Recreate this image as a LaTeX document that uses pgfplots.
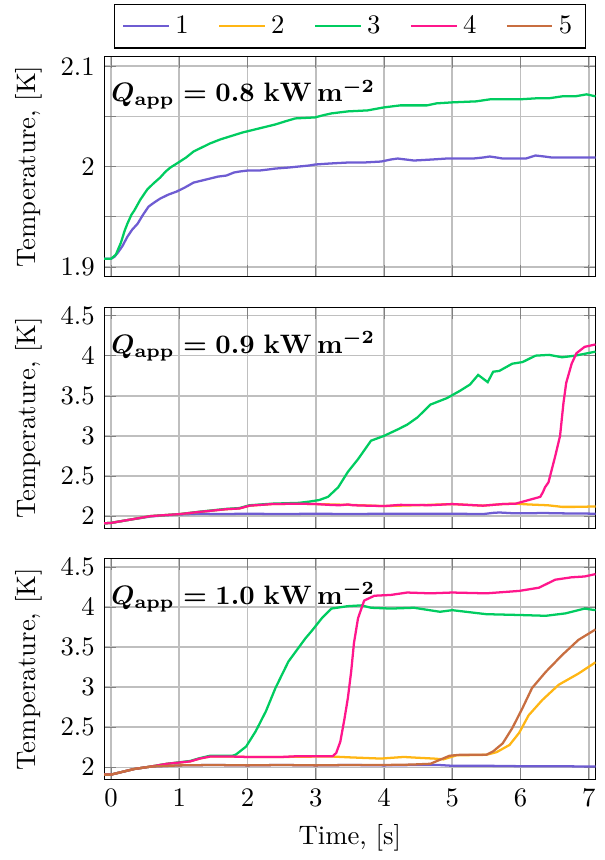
\documentclass[border=0pt]{standalone}
\usepackage{pgfplots}
\pgfplotsset{compat=1.18}
\usetikzlibrary{calc}

\definecolor{c1}{RGB}{110,92,210}
\definecolor{c2}{RGB}{255,182,20}
\definecolor{c3}{RGB}{0,204,96}
\definecolor{c4}{RGB}{255,22,140}
\definecolor{c5}{RGB}{200,110,64}

\pgfplotsset{
  panel/.style={
    scale only axis,
    width=184pt, height=82.6pt,
    xmin=-0.1, xmax=7.1,
    xtick={0,1,...,7},
    grid=major,
    major grid style={line width=0.6pt, black!25},
    ylabel={Temperature, [K]},
    every axis plot/.append style={line width=0.85pt},
  },
}
\tikzset{qlabel/.style={anchor=north west, inner sep=0pt}}
% bold math kept inside its own group so the math version resets within the node
\newcommand{\qapp}[1]{{\boldmath$Q_{\mathrm{app}} = #1\ \mathrm{kW\,m^{-2}}$}}

\begin{document}
\begin{tikzpicture}

\begin{axis}[panel, name=top, at={(0,0)}, anchor=north west,
  ymin=1.89, ymax=2.11,
  ytick={1.9,1.95,2,2.05,2.1}, yticklabels={1.9,,2,,2.1},
  xticklabels={},
  legend columns=5,
  legend style={at={(0.5,1.035)}, anchor=south, draw=black,
    /tikz/every even column/.append style={column sep=9pt}},
]
\addplot[c1] coordinates {
(-0.1,1.908) (0,1.908) (0.05,1.910) (0.1,1.914) (0.17,1.921) (0.24,1.930)
(0.31,1.937) (0.39,1.943) (0.47,1.952) (0.55,1.960) (0.63,1.964) (0.72,1.968)
(0.84,1.972) (0.96,1.975) (1.08,1.979) (1.21,1.984) (1.33,1.986) (1.45,1.988)
(1.57,1.990) (1.69,1.991) (1.8,1.994) (1.88,1.995) (2.0,1.996) (2.17,1.996)
(2.3,1.997) (2.41,1.998) (2.6,1.999) (2.75,2.000) (2.9,2.001) (2.99,2.002)
(3.2,2.003) (3.47,2.004) (3.7,2.004) (3.96,2.005) (4.1,2.007) (4.2,2.008)
(4.44,2.006) (4.7,2.007) (4.92,2.008) (5.31,2.008) (5.45,2.009) (5.55,2.010)
(5.65,2.009) (5.74,2.008) (6.08,2.008) (6.22,2.011) (6.35,2.010) (6.46,2.009)
(6.8,2.009) (7.1,2.009)
};
\addlegendimage{c2,line width=0.85pt}
\addplot[c3] coordinates {
(-0.1,1.908) (0,1.908) (0.07,1.912) (0.145,1.924) (0.2,1.936) (0.24,1.943)
(0.3,1.952) (0.34,1.956) (0.43,1.967) (0.53,1.977) (0.62,1.983) (0.72,1.989)
(0.8,1.995) (0.87,1.999) (1.01,2.005) (1.1,2.009) (1.21,2.015) (1.33,2.019)
(1.45,2.023) (1.6,2.027) (1.74,2.030) (1.93,2.034) (2.05,2.036) (2.17,2.038)
(2.41,2.042) (2.55,2.045) (2.70,2.048) (2.99,2.049) (3.1,2.051) (3.23,2.053)
(3.47,2.055) (3.76,2.056) (4.0,2.059) (4.24,2.061) (4.63,2.061) (4.77,2.063)
(5.0,2.064) (5.35,2.065) (5.55,2.067) (5.98,2.067) (6.22,2.068) (6.41,2.068)
(6.61,2.070) (6.80,2.070) (6.97,2.072) (7.1,2.070)
};
\addlegendimage{c4,line width=0.85pt}
\addlegendimage{c5,line width=0.85pt}
\legend{1,2,3,4,5}
\end{axis}
\node[qlabel] at ($(top.north west)+(2.5pt,-8.5pt)$) {\qapp{0.8}};

\begin{axis}[panel, name=mid, at={($(top.south west)+(0,-11.5pt)$)}, anchor=north west,
  ymin=1.85, ymax=4.6,
  ytick={2,2.5,3,3.5,4,4.5},
  xticklabels={},
]
\addplot[c1] coordinates {
(-0.1,1.91) (0,1.915) (0.24,1.95) (0.58,1.995) (0.8,2.01) (1.01,2.02)
(1.3,2.03) (1.6,2.025) (2.0,2.03) (2.5,2.025) (3.0,2.03) (3.5,2.025)
(4.0,2.03) (4.5,2.03) (5.0,2.03) (5.45,2.025) (5.6,2.04) (5.69,2.045)
(5.9,2.035) (6.2,2.035) (6.3,2.04) (6.5,2.035) (7.1,2.03)
};
\addplot[c2] coordinates {
(-0.1,1.91) (0,1.915) (0.24,1.95) (0.58,2.0) (1.01,2.025) (1.30,2.053)
(1.69,2.086) (1.88,2.095) (2.03,2.13) (2.36,2.15) (2.75,2.155) (3.0,2.15)
(3.5,2.14) (4.0,2.125) (4.5,2.136) (5.0,2.15) (5.45,2.13) (5.74,2.15)
(5.93,2.155) (6.12,2.145) (6.4,2.135) (6.61,2.115) (6.8,2.115) (7.1,2.12)
};
\addplot[c3] coordinates {
(-0.1,1.91) (0,1.915) (0.24,1.95) (0.58,2.0) (1.01,2.025) (1.30,2.055)
(1.69,2.09) (1.88,2.10) (2.03,2.135) (2.36,2.155) (2.75,2.165) (2.9,2.18)
(3.05,2.2) (3.18,2.24) (3.33,2.36) (3.47,2.55) (3.62,2.71) (3.81,2.94)
(4.0,3.0) (4.2,3.08) (4.34,3.14) (4.49,3.23) (4.68,3.39) (4.92,3.47)
(5.11,3.56) (5.26,3.64) (5.38,3.76) (5.52,3.67) (5.60,3.80) (5.69,3.81)
(5.88,3.90) (6.03,3.92) (6.22,4.0) (6.42,4.01) (6.61,3.98) (6.80,4.0)
(7.1,4.05)
};
\addplot[c4] coordinates {
(-0.1,1.91) (0,1.915) (0.24,1.95) (0.58,2.0) (1.01,2.025) (1.30,2.053)
(1.69,2.086) (1.88,2.095) (2.03,2.13) (2.36,2.15) (2.75,2.155) (3.0,2.15)
(3.2,2.14) (3.35,2.135) (3.47,2.145) (3.55,2.135) (3.76,2.13) (4.0,2.125)
(4.24,2.14) (4.68,2.136) (5.0,2.15) (5.45,2.13) (5.74,2.15) (5.93,2.155)
(6.12,2.2) (6.29,2.24) (6.33,2.30) (6.36,2.36) (6.41,2.42) (6.51,2.75)
(6.58,3.0) (6.63,3.41) (6.67,3.66) (6.75,3.9) (6.82,4.03) (6.94,4.11)
(7.1,4.14)
};
\end{axis}
\node[qlabel] at ($(mid.north west)+(2.5pt,-8.5pt)$) {\qapp{0.9}};

\begin{axis}[panel, name=bot, at={($(mid.south west)+(0,-11.5pt)$)}, anchor=north west,
  ymin=1.85, ymax=4.6,
  ytick={2,2.5,3,3.5,4,4.5},
  xlabel={Time, [s]},
]
\addplot[c1] coordinates {
(-0.1,1.91) (0,1.91) (0.145,1.94) (0.34,1.98) (0.58,2.01) (1.01,2.025)
(1.5,2.03) (2.0,2.025) (2.5,2.03) (3.0,2.025) (3.5,2.03) (4.0,2.025)
(4.5,2.03) (4.8,2.03) (5.0,2.02) (5.5,2.02) (6.0,2.015) (6.5,2.015) (7.1,2.01)
};
\addplot[c2] coordinates {
(-0.1,1.91) (0,1.91) (0.145,1.94) (0.34,1.98) (0.58,2.01) (0.82,2.045)
(1.01,2.06) (1.16,2.075) (1.30,2.11) (1.45,2.135) (1.78,2.135) (2.0,2.13)
(2.5,2.13) (3.0,2.135) (3.25,2.135) (3.5,2.125) (3.95,2.11) (4.29,2.13)
(4.5,2.12) (4.73,2.11) (4.87,2.10) (5.06,2.15) (5.5,2.157) (5.65,2.19)
(5.84,2.28) (5.98,2.43) (6.12,2.65) (6.32,2.84) (6.56,3.03) (6.85,3.17)
(7.1,3.31)
};
\addplot[c3] coordinates {
(-0.1,1.91) (0,1.91) (0.145,1.94) (0.34,1.98) (0.58,2.01) (0.82,2.045)
(1.16,2.08) (1.30,2.115) (1.45,2.145) (1.78,2.145) (1.83,2.16) (1.98,2.26)
(2.12,2.45) (2.27,2.70) (2.41,2.99) (2.60,3.32) (2.85,3.61) (2.94,3.70)
(3.09,3.86) (3.23,3.98) (3.47,4.01) (3.67,4.02) (3.81,3.99) (4.1,3.98)
(4.44,3.99) (4.82,3.94) (5.0,3.96) (5.5,3.91) (5.98,3.90) (6.37,3.89)
(6.66,3.92) (6.94,3.98) (7.1,3.96)
};
\addplot[c4] coordinates {
(-0.1,1.91) (0,1.91) (0.145,1.94) (0.34,1.98) (0.58,2.01) (0.82,2.045)
(1.16,2.075) (1.30,2.11) (1.45,2.135) (1.78,2.135) (2.0,2.13) (2.5,2.13)
(2.75,2.14) (3.0,2.14) (3.25,2.14) (3.30,2.18) (3.36,2.32) (3.42,2.6)
(3.47,2.86) (3.52,3.2) (3.56,3.55) (3.62,3.86) (3.71,4.08) (3.86,4.14)
(4.1,4.15) (4.34,4.18) (4.68,4.17) (5.0,4.18) (5.5,4.17) (5.98,4.20)
(6.27,4.24) (6.51,4.34) (6.75,4.37) (6.94,4.38) (7.1,4.41)
};
\addplot[c5] coordinates {
(-0.1,1.91) (0,1.91) (0.145,1.94) (0.34,1.98) (0.58,2.01) (1.01,2.025)
(1.5,2.03) (2.0,2.025) (2.5,2.03) (3.0,2.025) (3.5,2.03) (4.0,2.03)
(4.4,2.035) (4.68,2.045) (4.82,2.095) (4.96,2.145) (5.11,2.157) (5.5,2.157)
(5.6,2.2) (5.74,2.30) (5.88,2.49) (6.03,2.74) (6.17,2.99) (6.37,3.19)
(6.61,3.40) (6.85,3.59) (7.1,3.72)
};
\end{axis}
\node[qlabel] at ($(bot.north west)+(2.5pt,-8.5pt)$) {\qapp{1.0}};

% a little white margin on the left and top of the figure
\path (current bounding box.north west) ++(-2.5pt,1.5pt);

\end{tikzpicture}
\end{document}
